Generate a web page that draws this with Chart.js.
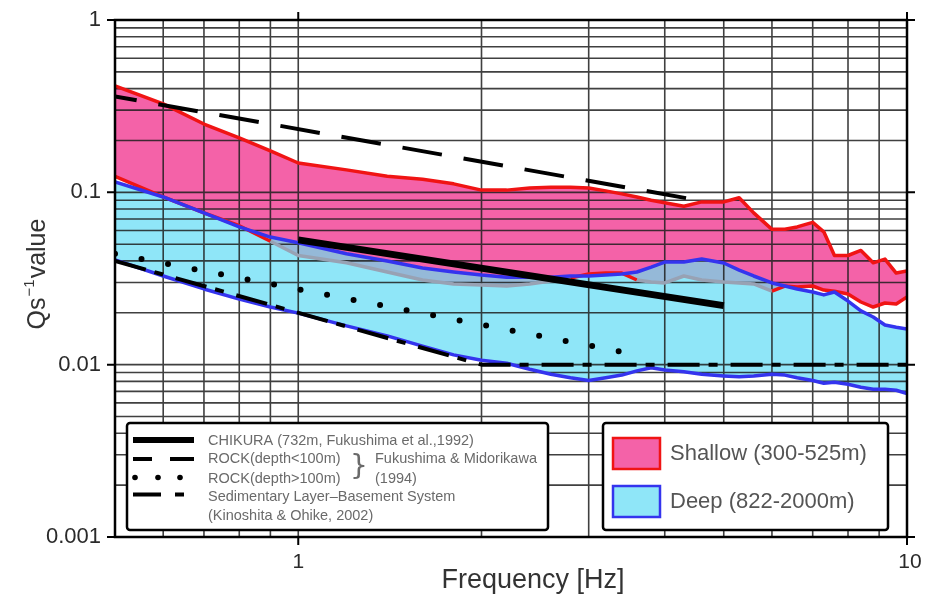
<!DOCTYPE html>
<html><head><meta charset="utf-8">
<script src="https://cdn.jsdelivr.net/npm/chart.js@4/dist/chart.umd.min.js"></script>
<style>html,body{margin:0;padding:0;background:#fff;}canvas{display:block;}</style>
</head><body>
<canvas id="c" width="939" height="599"></canvas>
<script>
// ---------------- data ----------------
const freq = [0.5,0.6,0.7,0.8,0.9,1.0,1.2,1.4,1.6,1.8,2.0,2.2,2.4,2.6,2.8,3.0,3.2,3.4,3.6,3.8,4.0,4.3,4.6,5.0,5.3,5.6,6.0,6.3,6.6,7.0,7.3,7.6,8.0,8.4,8.8,9.2,9.6,10];
const shallowUpper = [0.414,0.326,0.249,0.207,0.174,0.148,0.135,0.124,0.119,0.112,0.103,0.103,0.106,0.107,0.107,0.106,0.102,0.098,0.094,0.090,0.087,0.083,0.088,0.088,0.093,0.076,0.061,0.061,0.063,0.067,0.059,0.043,0.043,0.046,0.039,0.041,0.034,0.035];
const shallowLower = [0.124,0.094,0.076,0.064,0.052,0.043,0.039,0.0345,0.031,0.0294,0.029,0.0286,0.0294,0.0306,0.0318,0.0336,0.034,0.034,0.031,0.0302,0.0298,0.0327,0.031,0.0302,0.0298,0.0294,0.0267,0.0286,0.0282,0.0286,0.0271,0.0267,0.0257,0.0231,0.0216,0.0228,0.0225,0.0247];
const deepUpper = [0.115,0.094,0.076,0.063,0.055,0.051,0.044,0.040,0.0364,0.0345,0.0331,0.0322,0.0322,0.0322,0.0327,0.0327,0.0331,0.0336,0.0345,0.0368,0.0394,0.0394,0.0410,0.0389,0.0354,0.0327,0.0298,0.0286,0.0275,0.0264,0.0254,0.0264,0.0234,0.0205,0.0189,0.0170,0.0165,0.0161];
const deepLower = [0.0405,0.0327,0.0275,0.024,0.0216,0.0199,0.0168,0.0147,0.0128,0.0114,0.0106,0.0102,0.0094,0.0088,0.0084,0.0081,0.0084,0.0087,0.0092,0.0096,0.0093,0.0091,0.0088,0.0086,0.0085,0.0086,0.0088,0.0087,0.0084,0.0081,0.0078,0.0079,0.0077,0.0074,0.0072,0.0072,0.0071,0.0068];

const chikuraFreq = [1, 5];
const chikuraQ = [0.053, 0.022];
const rockShallowFreq = [0.5, 4.7];
const rockShallowQ = [0.36, 0.088];
const rockDeepFreq = [0.5, 3.7];
const rockDeepQ = [0.044, 0.0112];
const sedFreq = [0.5, 2, 10];
const sedQ = [0.04, 0.01, 0.01];

const xGridValues = [0.6,0.7,0.8,0.9,1,2,3,4,5,6,7,8,9];
const yGridValues = [0.002,0.003,0.004,0.005,0.006,0.007,0.008,0.009,0.01,0.02,0.03,0.04,0.05,0.06,0.07,0.08,0.09,0.1,0.2,0.3,0.4,0.5,0.6,0.7,0.8,0.9];
const xTickValues = [1, 10];
const xTickLabels = ['1', '10'];
const yTickValues = [1, 0.1, 0.01, 0.001];
const yTickLabels = ['1', '0.1', '0.01', '0.001'];
const xTitle = 'Frequency [Hz]';
const yTitleParts = ['Qs', '\u22121', 'value'];
const refLegendLabels = ['CHIKURA (732m, Fukushima et al.,1992)', 'ROCK(depth<100m)', 'ROCK(depth>100m)', 'Sedimentary Layer\u2013Basement System', '(Kinoshita & Ohike, 2002)'];
const braceNote = ['Fukushima & Midorikawa', '(1994)'];
const bandLabels = ['Shallow (300-525m)', 'Deep (822-2000m)'];

// ---------------- styles ----------------
const FONT = '"Liberation Sans", Arial, Helvetica, sans-serif';
const PINK = '#f462a8', CYAN = '#8fe6f8', OVERLAP = '#95b9d8';
const RED = '#f01414', BLUE = '#3434ee', GRAYLINE = '#98a2b4';
const GRID = 'rgba(30,30,30,0.85)';

const pts = (xs, ys) => xs.map((f, i) => ({x: f, y: ys[i]}));
const base = {pointRadius: 0, pointHoverRadius: 0, tension: 0, borderJoinStyle: 'round'};
const fillOnly = {borderColor: 'rgba(0,0,0,0)', borderWidth: 1};

const datasets = [
  {...base, label: 'CHIKURA', data: pts(chikuraFreq, chikuraQ), borderColor: '#000', borderWidth: 7, borderCapStyle: 'butt', fill: false, order: 0},
  {...base, label: 'ROCK(depth<100m)', data: pts(rockShallowFreq, rockShallowQ), borderColor: '#000', borderWidth: 4, borderDash: [40, 22], borderDashOffset: 18, fill: false, order: 1},
  {...base, label: 'ROCK(depth>100m)', data: pts(rockDeepFreq, rockDeepQ), borderColor: '#000', borderWidth: 6, borderDash: [0, 27], borderCapStyle: 'round', fill: false, order: 2},
  {...base, label: 'Sedimentary', data: pts(sedFreq, sedQ), borderColor: '#000', borderWidth: 4, borderDash: [32, 9, 9, 13], fill: false, order: 3},
  {...base, label: 'Deep lower', data: pts(freq, deepLower), borderColor: BLUE, borderWidth: 3.5, fill: false, order: 4},
  {...base, label: 'Deep upper', data: pts(freq, deepUpper), borderColor: BLUE, borderWidth: 3.5, fill: false, order: 5},
  {...base, label: 'Shallow upper', data: pts(freq, shallowUpper), borderColor: RED, borderWidth: 3.5, fill: false, order: 6},
  {...base, label: 'Shallow lower', data: pts(freq, shallowLower), borderColor: RED, borderWidth: 3.5, fill: false, order: 7,
    segment: {borderColor: c => (shallowLower[c.p0DataIndex] < deepUpper[c.p0DataIndex] && shallowLower[c.p1DataIndex] < deepUpper[c.p1DataIndex]) ? GRAYLINE : RED}},
  {...base, ...fillOnly, label: 'overlap', data: pts(freq, shallowLower), fill: {target: 9, above: 'rgba(0,0,0,0)', below: OVERLAP}, order: 8},
  {...base, ...fillOnly, label: 'deep band', data: pts(freq, deepUpper), fill: 10, backgroundColor: CYAN, order: 9},
  {...base, ...fillOnly, label: 'deep band lower', data: pts(freq, deepLower), fill: false, order: 10},
  {...base, ...fillOnly, label: 'shallow band', data: pts(freq, shallowUpper), fill: 12, backgroundColor: PINK, order: 11},
  {...base, ...fillOnly, label: 'shallow band lower', data: pts(freq, shallowLower), fill: false, order: 12}
];

const decor = {
  id: 'decor',
  beforeDatasetsDraw(chart) {
    const {ctx, chartArea: a, scales: {x, y}} = chart;
    ctx.save();
    ctx.strokeStyle = GRID; ctx.lineWidth = 1.6;
    ctx.beginPath();
    xGridValues.forEach(v => { const p = x.getPixelForValue(v); ctx.moveTo(p, a.top); ctx.lineTo(p, a.bottom); });
    yGridValues.forEach(v => { const p = y.getPixelForValue(v); ctx.moveTo(a.left, p); ctx.lineTo(a.right, p); });
    ctx.stroke();
    ctx.restore();
  },
  afterDatasetsDraw(chart) {
    const {ctx, chartArea: a, scales: {x, y}} = chart;
    ctx.save();
    // frame
    ctx.strokeStyle = '#000'; ctx.lineWidth = 2.5;
    ctx.strokeRect(a.left, a.top, a.right - a.left, a.bottom - a.top);
    // major ticks on four sides
    ctx.lineWidth = 2;
    ctx.beginPath();
    xTickValues.forEach(v => { const p = x.getPixelForValue(v); ctx.moveTo(p, a.bottom); ctx.lineTo(p, a.bottom + 8); ctx.moveTo(p, a.top); ctx.lineTo(p, a.top - 8); });
    yTickValues.forEach(v => { const p = y.getPixelForValue(v); ctx.moveTo(a.left - 8, p); ctx.lineTo(a.left, p); ctx.moveTo(a.right, p); ctx.lineTo(a.right + 8, p); });
    ctx.stroke();
    // tick labels
    ctx.fillStyle = '#2a2a2a';
    ctx.font = '22px ' + FONT; ctx.textAlign = 'right'; ctx.textBaseline = 'middle';
    yTickValues.forEach((v, i) => ctx.fillText(yTickLabels[i], a.left - 14, y.getPixelForValue(v)));
    ctx.font = '21px ' + FONT; ctx.textAlign = 'center';
    xTickValues.forEach((v, i) => ctx.fillText(xTickLabels[i], x.getPixelForValue(v) + (i === 1 ? 3 : 0), 562));
    // x title
    ctx.font = '27px ' + FONT; ctx.textBaseline = 'alphabetic'; ctx.fillStyle = '#333';
    ctx.fillText(xTitle, 533, 588);
    // y title (rotated, with superscript)
    ctx.save();
    ctx.translate(36, 274); ctx.rotate(-Math.PI / 2);
    ctx.textAlign = 'left';
    ctx.font = '25px ' + FONT; const w1 = ctx.measureText(yTitleParts[0]).width;
    ctx.font = '15px ' + FONT; const w2 = ctx.measureText(yTitleParts[1]).width;
    ctx.font = '25px ' + FONT; const w3 = ctx.measureText(yTitleParts[2]).width;
    let xx = -(w1 + w2 + w3 + 2) / 2;
    ctx.fillText(yTitleParts[0], xx, 9); xx += w1 + 1;
    ctx.font = '15px ' + FONT; ctx.fillText(yTitleParts[1], xx, -2); xx += w2 + 1;
    ctx.font = '25px ' + FONT; ctx.fillText(yTitleParts[2], xx, 9);
    ctx.restore();

    // legend 1 (reference models)
    ctx.fillStyle = '#fff'; ctx.strokeStyle = '#000'; ctx.lineWidth = 2.5;
    ctx.beginPath(); ctx.roundRect(127, 423, 421, 107, 3); ctx.fill(); ctx.stroke();
    ctx.strokeStyle = '#000'; ctx.lineCap = 'butt';
    ctx.lineWidth = 6; ctx.beginPath(); ctx.moveTo(133, 440); ctx.lineTo(194, 440); ctx.stroke();
    ctx.lineWidth = 4; ctx.beginPath(); ctx.moveTo(133, 459); ctx.lineTo(152, 459); ctx.moveTo(170, 459); ctx.lineTo(194, 459); ctx.stroke();
    ctx.fillStyle = '#000';
    [135, 158, 180].forEach(cx => { ctx.beginPath(); ctx.arc(cx, 477.5, 2.8, 0, Math.PI * 2); ctx.fill(); });
    ctx.beginPath(); ctx.moveTo(133, 494.5); ctx.lineTo(161, 494.5); ctx.moveTo(175, 494.5); ctx.lineTo(184, 494.5); ctx.stroke();
    ctx.fillStyle = '#6a6a6a'; ctx.font = '14.5px ' + FONT; ctx.textAlign = 'left'; ctx.textBaseline = 'middle';
    [440.5, 459, 478.5, 497, 516].forEach((yy, i) => ctx.fillText(refLegendLabels[i], 208, yy));
    ctx.fillText(braceNote[0], 375, 459);
    ctx.fillText(braceNote[1], 375, 478.5);
    ctx.font = '28px "DejaVu Sans", ' + FONT; ctx.textAlign = 'center';
    ctx.fillText('}', 359, 468);

    // legend 2 (bands)
    ctx.fillStyle = '#fff'; ctx.strokeStyle = '#000'; ctx.lineWidth = 2.5;
    ctx.beginPath(); ctx.roundRect(603, 423, 285, 107, 3); ctx.fill(); ctx.stroke();
    ctx.lineWidth = 2.5;
    ctx.fillStyle = PINK; ctx.strokeStyle = RED; ctx.fillRect(613, 438, 47, 31); ctx.strokeRect(613, 438, 47, 31);
    ctx.fillStyle = CYAN; ctx.strokeStyle = BLUE; ctx.fillRect(613, 486, 47, 31); ctx.strokeRect(613, 486, 47, 31);
    ctx.fillStyle = '#555'; ctx.font = '22px ' + FONT; ctx.textAlign = 'left'; ctx.textBaseline = 'middle';
    ctx.fillText(bandLabels[0], 670, 454);
    ctx.fillText(bandLabels[1], 670, 502);
    ctx.restore();
  }
};

new Chart(document.getElementById('c'), {
  type: 'line',
  data: {datasets},
  options: {
    responsive: false, devicePixelRatio: 1, animation: false,
    layout: {padding: {left: 115, right: 32, top: 20, bottom: 62}},
    scales: {
      x: {type: 'logarithmic', min: 0.5, max: 10, display: false},
      y: {type: 'logarithmic', min: 0.001, max: 1, display: false}
    },
    plugins: {legend: {display: false}, tooltip: {enabled: false}, filler: {drawTime: 'beforeDatasetsDraw'}}
  },
  plugins: [decor]
});
</script>
</body></html>
